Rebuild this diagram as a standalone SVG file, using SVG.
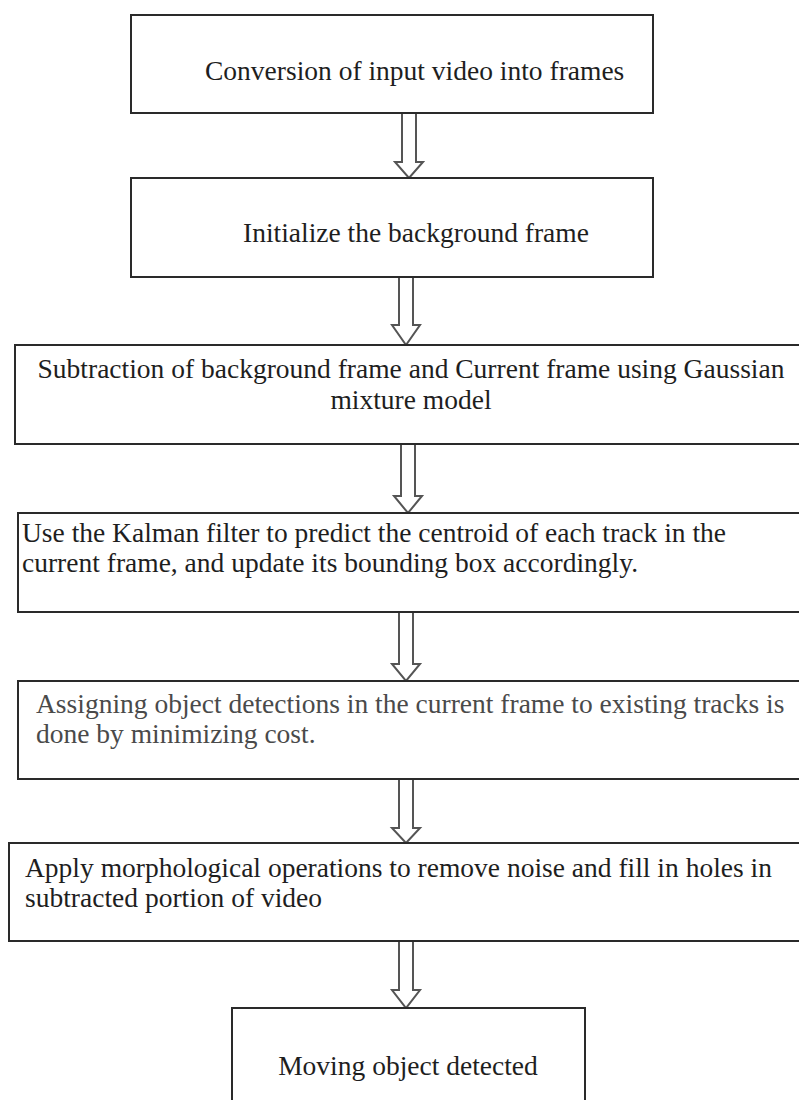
<svg xmlns="http://www.w3.org/2000/svg" width="799" height="1100" viewBox="0 0 799 1100">
<style>
.box{fill:#fff;stroke:#2a2a2a;stroke-width:2}
.arr{fill:#fff;stroke:#555;stroke-width:2;stroke-linejoin:miter}
text{font-family:"Liberation Serif","Times New Roman",serif;font-size:27.5px;fill:#1e1e1e}
.c{text-anchor:middle}
.g{fill:#4a4a4a}
</style>
<rect width="799" height="1100" fill="#fff"/>
<g id="connectors">
<polygon class="arr" points="402,113 416,113 416,162 423,162 409,178 395,162 402,162"/>
<polygon class="arr" points="399,277 413,277 413,325 420,325 406,345 392,325 399,325"/>
<polygon class="arr" points="401,444 415,444 415,496 422,496 408,513 394,496 401,496"/>
<polygon class="arr" points="399,612 413,612 413,664 420,664 406,681 392,664 399,664"/>
<polygon class="arr" points="399,779 413,779 413,828 420,828 406,843 392,828 399,828"/>
<polygon class="arr" points="399,941 413,941 413,990 420,990 406,1008 392,990 399,990"/>
</g>
<g id="n1"><rect class="box" x="131" y="15" width="522" height="98"/><text x="205" y="80">Conversion of input video into frames</text></g>
<g id="n2"><rect class="box" x="131" y="178" width="522" height="99"/><text x="243" y="242">Initialize the background frame</text></g>
<g id="n3"><rect class="box" x="15" y="345" width="800" height="99"/><text class="c" x="411" y="378">Subtraction of background frame and Current frame using Gaussian</text><text class="c" x="411" y="409">mixture model</text></g>
<g id="n4"><rect class="box" x="18" y="513" width="800" height="99"/><text x="22" y="542">Use the Kalman filter to predict the centroid of each track in the</text><text x="22" y="572">current frame, and update its bounding box accordingly.</text></g>
<g id="n5"><rect class="box" x="18" y="681" width="800" height="98"/><text class="g" x="36" y="713">Assigning object detections in the current frame to existing tracks is</text><text class="g" x="36" y="743">done by minimizing cost.</text></g>
<g id="n6"><rect class="box" x="9" y="843" width="800" height="98"/><text x="25" y="877">Apply morphological operations to remove noise and fill in holes in</text><text x="25" y="907">subtracted portion of video</text></g>
<g id="n7"><rect class="box" x="232" y="1008" width="353" height="110"/><text class="c" x="408" y="1075">Moving object detected</text></g>
</svg>
